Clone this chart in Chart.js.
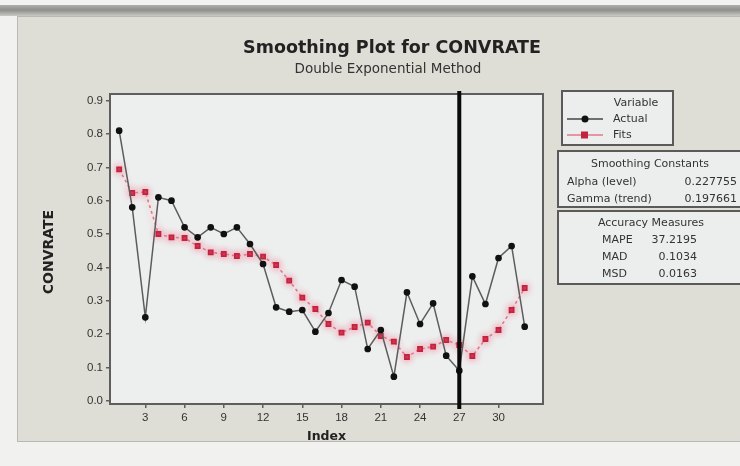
<!DOCTYPE html>
<html>
<head>
<meta charset="utf-8">
<title>Smoothing Plot for CONVRATE</title>
<script src="https://cdn.jsdelivr.net/npm/chart.js@4.4.1/dist/chart.umd.min.js"></script>
<style>
  html, body { margin: 0; padding: 0; background: #f2f2f0; }
  canvas { display: block; }
</style>
</head>
<body>
<canvas id="chart" width="740" height="466"></canvas>
<script>
// Observation index and the two plotted series
const indexValues = [1, 2, 3, 4, 5, 6, 7, 8, 9, 10, 11, 12, 13, 14, 15, 16,
                     17, 18, 19, 20, 21, 22, 23, 24, 25, 26, 27, 28, 29, 30, 31, 32];
const actual = [0.81, 0.58, 0.25, 0.61, 0.60, 0.52, 0.49, 0.52, 0.50, 0.52, 0.47, 0.41,
                0.28, 0.267, 0.272, 0.207, 0.263, 0.362, 0.342, 0.155, 0.212, 0.072,
                0.325, 0.23, 0.292, 0.135, 0.09, 0.373, 0.29, 0.428, 0.464, 0.222];
const fits = [0.694, 0.623, 0.626, 0.50, 0.49, 0.488, 0.464, 0.445, 0.44, 0.434, 0.44, 0.432,
              0.407, 0.36, 0.309, 0.275, 0.23, 0.204, 0.221, 0.234, 0.194, 0.177,
              0.131, 0.155, 0.162, 0.182, 0.167, 0.134, 0.185, 0.212, 0.272, 0.338];

// Axis tick positions
const xTickValues = [3, 6, 9, 12, 15, 18, 21, 24, 27, 30];
const yTickValues = [0, 0.1, 0.2, 0.3, 0.4, 0.5, 0.6, 0.7, 0.8, 0.9];

// Index where the vertical reference line is drawn
const splitIndex = 27;

// Side tables
const smoothingConstants = [["Alpha (level)", "0.227755"], ["Gamma (trend)", "0.197661"]];
const accuracyMeasures = [["MAPE", "37.2195"], ["MAD", "0.1034"], ["MSD", "0.0163"]];

const FONT = '"DejaVu Sans", "Liberation Sans", sans-serif';
const FONT_SMALL = '"Liberation Sans", "DejaVu Sans", sans-serif';

const toPoints = ys => indexValues.map((x, i) => ({ x: x, y: ys[i] }));

// Page, panel and plot-area backgrounds
const backdrop = {
  id: 'backdrop',
  beforeDraw(chart) {
    const { ctx, chartArea: a } = chart;
    ctx.save();
    ctx.fillStyle = '#f1f1ef';
    ctx.fillRect(0, 0, 740, 466);
    const g = ctx.createLinearGradient(0, 4, 0, 16);
    g.addColorStop(0, '#b4b4b2');
    g.addColorStop(0.5, '#8e8e8c');
    g.addColorStop(1, '#c9c9c5');
    ctx.fillStyle = g;
    ctx.fillRect(0, 5, 740, 11);
    ctx.fillStyle = '#dfded6';
    ctx.fillRect(17, 16, 723, 426);
    ctx.strokeStyle = '#b9b8b2';
    ctx.lineWidth = 1;
    ctx.strokeRect(17.5, 16.5, 730, 425);
    ctx.fillStyle = '#edefee';
    ctx.fillRect(a.left, a.top, a.right - a.left, a.bottom - a.top);
    ctx.restore();
  }
};

// Soft pink haze around the fitted series
const fitsHaze = {
  id: 'fitsHaze',
  beforeDatasetDraw(chart, args) {
    if (args.index !== 1) return;
    const ctx = chart.ctx;
    ctx.save();
    ctx.shadowColor = 'rgba(245, 120, 145, 0.9)';
    ctx.shadowBlur = 7;
  },
  afterDatasetDraw(chart, args) {
    if (args.index !== 1) return;
    chart.ctx.restore();
  }
};

// Plot frame and the vertical split line
const frameAndSplit = {
  id: 'frameAndSplit',
  afterDatasetsDraw(chart) {
    const { ctx, chartArea: a, scales } = chart;
    ctx.save();
    ctx.strokeStyle = '#5e5e5e';
    ctx.lineWidth = 2;
    ctx.strokeRect(a.left, a.top, a.right - a.left, a.bottom - a.top);
    const x = scales.x.getPixelForValue(splitIndex);
    ctx.strokeStyle = '#0a0a0a';
    ctx.lineWidth = 4;
    ctx.beginPath();
    ctx.moveTo(x, a.top - 3);
    ctx.lineTo(x, a.bottom + 5);
    ctx.stroke();
    ctx.restore();
  }
};

function box(ctx, x, y, w, h) {
  ctx.fillStyle = '#eceeed';
  ctx.fillRect(x, y, w, h);
  ctx.strokeStyle = '#5a5a5a';
  ctx.lineWidth = 2;
  ctx.strokeRect(x, y, w, h);
  ctx.fillStyle = '#333';
}

// Titles, axis labels, legend and side tables
const annotations = {
  id: 'annotations',
  afterDraw(chart) {
    const { ctx, chartArea: a } = chart;
    ctx.save();
    ctx.fillStyle = '#222';
    ctx.textAlign = 'center';
    ctx.textBaseline = 'middle';
    ctx.font = 'bold 17.5px ' + FONT;
    ctx.fillText('Smoothing Plot for CONVRATE', 392, 48);
    ctx.fillStyle = '#333';
    ctx.font = '13.5px ' + FONT;
    ctx.fillText('Double Exponential Method', 388, 69);

    ctx.fillStyle = '#222';
    ctx.font = 'bold 12.5px ' + FONT;
    ctx.fillText('Index', (a.left + a.right) / 2, 437);
    ctx.save();
    ctx.translate(49, 252);
    ctx.rotate(-Math.PI / 2);
    ctx.font = 'bold 14px ' + FONT;
    ctx.fillText('CONVRATE', 0, 0);
    ctx.restore();

    // legend
    box(ctx, 562, 91, 111, 54);
    ctx.font = '11px ' + FONT;
    ctx.fillText('Variable', 636, 103);
    ctx.textAlign = 'left';
    const items = [
      { label: 'Actual', y: 119, line: '#444', fill: '#111', square: false },
      { label: 'Fits', y: 135, line: '#e07a8c', fill: '#c2243f', square: true }
    ];
    items.forEach(it => {
      ctx.strokeStyle = it.line;
      ctx.lineWidth = 1.5;
      ctx.beginPath();
      ctx.moveTo(567, it.y);
      ctx.lineTo(603, it.y);
      ctx.stroke();
      ctx.fillStyle = it.fill;
      ctx.beginPath();
      if (it.square) ctx.rect(581, it.y - 3.5, 7, 7);
      else ctx.arc(585, it.y, 3.5, 0, Math.PI * 2);
      ctx.fill();
      ctx.fillStyle = '#333';
      ctx.fillText(it.label, 613, it.y);
    });

    // smoothing constants
    box(ctx, 558, 151, 190, 56);
    ctx.font = '11px ' + FONT;
    ctx.textAlign = 'center';
    ctx.fillText('Smoothing Constants', 650, 164);
    smoothingConstants.forEach((r, i) => {
      const y = 182 + i * 17;
      ctx.textAlign = 'left';
      ctx.fillText(r[0], 567, y);
      ctx.textAlign = 'right';
      ctx.fillText(r[1], 737, y);
    });

    // accuracy measures
    box(ctx, 558, 211, 190, 73);
    ctx.textAlign = 'center';
    ctx.fillText('Accuracy Measures', 651, 223);
    accuracyMeasures.forEach((r, i) => {
      const y = 240 + i * 17;
      ctx.textAlign = 'left';
      ctx.fillText(r[0], 602, y);
      ctx.textAlign = 'right';
      ctx.fillText(r[1], 697, y);
    });
    ctx.restore();
  }
};

new Chart(document.getElementById('chart'), {
  type: 'line',
  data: {
    datasets: [
      {
        label: 'Actual',
        data: toPoints(actual),
        borderColor: '#5c5c5c',
        borderWidth: 1.5,
        backgroundColor: '#111',
        pointBackgroundColor: '#111',
        pointBorderColor: '#111',
        pointStyle: 'circle',
        pointRadius: 2.6,
        tension: 0
      },
      {
        label: 'Fits',
        data: toPoints(fits),
        borderColor: '#e07a8c',
        borderWidth: 1.6,
        borderDash: [3, 3],
        backgroundColor: '#c2243f',
        pointBackgroundColor: '#c2243f',
        pointBorderColor: '#c2243f',
        pointStyle: 'rect',
        pointRadius: 3,
        tension: 0
      }
    ]
  },
  options: {
    responsive: false,
    animation: false,
    devicePixelRatio: 1,
    layout: { padding: { left: 70, top: 94, right: 197, bottom: 32 } },
    plugins: {
      legend: { display: false },
      title: { display: false },
      tooltip: { enabled: false }
    },
    scales: {
      x: {
        type: 'linear',
        min: 0.3,
        max: 33.4,
        afterBuildTicks: s => { s.ticks = xTickValues.map(v => ({ value: v })); },
        afterFit: s => { s.height = 30; },
        ticks: { color: '#333', font: { size: 11.5, family: FONT_SMALL }, padding: 3, maxRotation: 0, autoSkip: false },
        grid: { drawOnChartArea: false, drawTicks: true, tickLength: 4, color: '#5e5e5e', lineWidth: 1.5 },
        border: { display: true, color: '#5e5e5e', width: 2 }
      },
      y: {
        min: -0.01,
        max: 0.92,
        afterBuildTicks: s => { s.ticks = yTickValues.map(v => ({ value: v })); },
        afterFit: s => { s.width = 40; },
        ticks: { color: '#333', font: { size: 11.5, family: FONT_SMALL }, padding: 3, callback: v => v.toFixed(1) },
        grid: { drawOnChartArea: false, drawTicks: true, tickLength: 4, color: '#5e5e5e', lineWidth: 1.5 },
        border: { display: true, color: '#5e5e5e', width: 2 }
      }
    }
  },
  plugins: [backdrop, fitsHaze, frameAndSplit, annotations]
});
</script>
</body>
</html>
